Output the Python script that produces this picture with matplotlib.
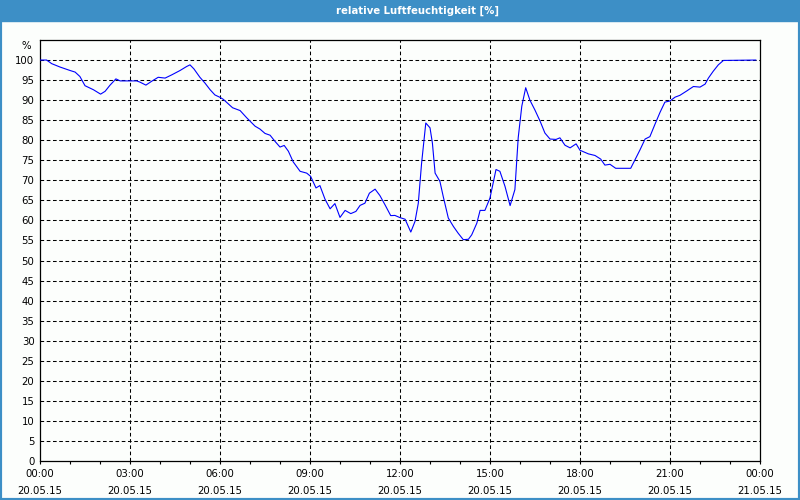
import matplotlib
matplotlib.use("Agg")
import matplotlib.pyplot as plt
from matplotlib.patches import Rectangle

# -------------------------
# Data (hours since 20.05.15 00:00, relative humidity in %)
# -------------------------
hours = [
    0.0, 0.22, 0.39, 0.67, 1.0, 1.17, 1.33, 1.5, 1.78, 2.02, 2.17, 2.33, 2.53, 2.67,
    2.94, 3.22, 3.33, 3.53, 3.72, 3.94, 4.17, 4.39, 4.67, 4.89, 5.0, 5.13, 5.33, 5.5,
    5.67, 5.83, 6.0, 6.11, 6.42, 6.67, 6.89, 7.17, 7.33, 7.5, 7.67, 7.83, 8.0, 8.14,
    8.28, 8.44, 8.67, 8.89, 9.02, 9.2, 9.33, 9.5, 9.67, 9.83, 10.0, 10.17, 10.36,
    10.53, 10.67, 10.83, 10.98, 11.17, 11.33, 11.5, 11.69, 11.83, 12.0, 12.17, 12.36,
    12.5, 12.61, 12.72, 12.86, 13.0, 13.08, 13.17, 13.33, 13.44, 13.61, 13.78, 13.94,
    14.11, 14.28, 14.39, 14.56, 14.67, 14.83, 15.0, 15.2, 15.33, 15.5, 15.67, 15.83,
    15.94, 16.06, 16.19, 16.33, 16.5, 16.67, 16.83, 17.0, 17.2, 17.33, 17.5, 17.67,
    17.87, 18.0, 18.28, 18.5, 18.69, 18.83, 19.0, 19.19, 19.44, 19.69, 19.83, 20.0,
    20.17, 20.33, 20.5, 20.67, 20.83, 21.0, 21.17, 21.33, 21.56, 21.78, 22.0, 22.17,
    22.28, 22.44, 22.61, 22.78, 23.86,
]
humidity = [
    100, 100, 99.1, 98.25, 97.4, 97.0, 95.9, 93.6, 92.6, 91.5, 92.2, 93.7, 95.3, 94.8,
    94.8, 94.8, 94.5, 93.75, 94.7, 95.7, 95.5, 96.3, 97.4, 98.4, 98.8, 97.8, 95.7, 94.25,
    92.6, 91.3, 90.7, 90.2, 88.1, 87.4, 85.6, 83.5, 82.8, 81.7, 81.25, 79.75, 78.3, 78.7,
    77.25, 74.6, 72.25, 71.8, 71.0, 68.1, 68.7, 65.3, 62.9, 64.2, 60.75, 62.5, 61.7,
    62.25, 63.75, 64.3, 66.8, 67.8, 66.2, 63.9, 61.2, 61.25, 60.7, 60.3, 57.1,
    59.75, 64.3, 74.3, 84.3, 83.1, 79.3, 71.8, 69.75, 66.0, 60.6, 58.5, 56.8,
    55.2, 55.3, 56.4, 59.3, 62.5, 62.5, 65.6, 72.7, 72.25, 68.5, 63.7, 67.7,
    80.6, 88.5, 93.1, 90.0, 87.5, 84.75, 81.8, 80.3, 80.2, 80.6, 78.75, 78.1,
    79.1, 77.5, 76.6, 76.2, 75.3, 73.8, 74.0, 73.0, 73.0, 73.0, 75.1, 77.6,
    80.3, 80.9, 84.0, 87.0, 89.5, 89.8, 90.75, 91.2, 92.3, 93.4, 93.25, 94.0,
    95.5, 97.2, 98.8, 99.9, 100,
]

x_ticks = [0, 3, 6, 9, 12, 15, 18, 21, 24]
x_labels = ["00:00\n20.05.15", "03:00\n20.05.15", "06:00\n20.05.15", "09:00\n20.05.15",
            "12:00\n20.05.15", "15:00\n20.05.15", "18:00\n20.05.15", "21:00\n20.05.15",
            "00:00\n21.05.15"]
y_ticks = list(range(0, 101, 5))
title = "relative Luftfeuchtigkeit [%]"

# -------------------------
# Figure with window-like frame
# -------------------------
fig = plt.figure(figsize=(8, 5), dpi=100, facecolor="#fcfefc")
frame_blue = "#3d8fc6"
fig.patches.append(Rectangle((0, 1 - 21 / 500), 1, 21 / 500, transform=fig.transFigure,
                             color=frame_blue, zorder=0))
fig.patches.append(Rectangle((0, 0), 1, 1, transform=fig.transFigure, fill=False,
                             edgecolor=frame_blue, linewidth=3, zorder=0))
fig.text(417 / 800, 1 - 11 / 500, title, color="white", fontsize=7.3, fontweight="bold",
         ha="center", va="center")

ax = fig.add_axes([40 / 800, 39 / 500, 720 / 800, 421 / 500])
ax.set_facecolor("#fcfefc")
ax.plot(hours, humidity, color="#0000ff", linewidth=0.8, zorder=3)

ax.set_xlim(0, 24)
ax.set_ylim(0, 105)
ax.set_xticks(x_ticks)
ax.set_xticklabels(x_labels, fontsize=7.3, linespacing=1.9)
ax.set_xticks(range(0, 25), minor=True)
ax.set_yticks(y_ticks)
ax.set_yticklabels([str(v) for v in y_ticks], fontsize=7.3)
ax.tick_params(axis="x", which="both", direction="out", length=2.5, width=0.8, pad=3)
ax.tick_params(axis="y", length=0, pad=4)

for v in y_ticks[1:]:
    ax.axhline(v, color="black", linewidth=0.75, dashes=(3.5, 2.5), zorder=1)
for t in x_ticks[1:-1]:
    ax.axvline(t, color="black", linewidth=0.75, dashes=(3.5, 2.5), zorder=1)

for s in ax.spines.values():
    s.set_linewidth(0.9)

fig.text(26 / 800, 1 - 46 / 500, "%", fontsize=7.3, ha="center", va="center")

fig.savefig("out.png", dpi=100, facecolor=fig.get_facecolor())
